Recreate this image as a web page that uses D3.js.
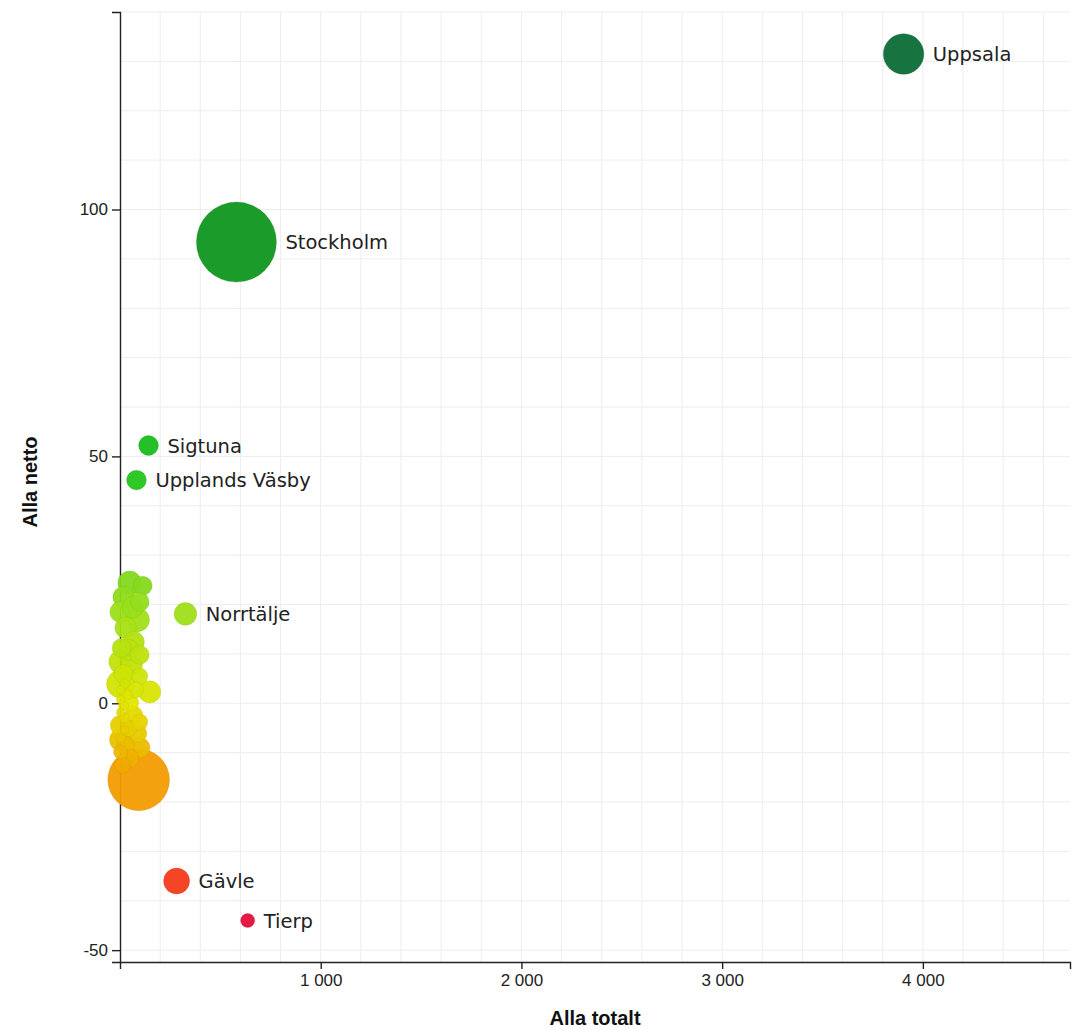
<!DOCTYPE html>
<html>
<head>
<meta charset="utf-8">
<script src="https://cdn.jsdelivr.net/npm/d3@7"></script>
<style>
  html, body { margin: 0; padding: 0; background: #fff; }
  svg { display: block; }
</style>
</head>
<body>
<div id="chart"></div>
<script>
// ---- Data ----
const names = [
  "Uppsala", "Stockholm", "Sigtuna", "Upplands Väsby", "Norrtälje", "Gävle", "Tierp",
  "Göteborg",
  "Vallentuna", "Österåker", "Täby", "Vaxholm", "Sollentuna", "Järfälla", "Danderyd",
  "Solna", "Sundbyberg", "Upplands-Bro", "Håbo", "Lidingö", "Enköping", "Ekerö",
  "Västerås", "Heby", "Knivsta", "Östhammar", "Älvkarleby", "Salem", "Tyresö",
  "Nykvarn", "Södertälje", "Botkyrka", "Huddinge", "Haninge", "Värmdö", "Nynäshamn",
  "Sandviken", "Falun", "Borlänge", "Örebro", "Eskilstuna", "Linköping", "Norrköping",
  "Malmö", "Lund", "Umeå", "Gotland", "Karlstad"
];
const totalt = [
  3904, 580, 142, 82, 326, 282, 636,
  93,
  48, 113, 18, 98, 3, 88, 28,
  68, 8, 98, 3, 58, 18, 3,
  98, 148, 23, 3, 38, 3, 18,
  53, 3, 23, 68, 3, 43, 88,
  3, 28, 98, 3, 48, 13, 78,
  98, 23, 63, 43, 3, 73
];
const netto = [
  131.5, 93.4, 52.2, 45.2, 18.1, -36.0, -44.0,
  -15.5,
  24.4, 23.8, 21.5, 20.5, 18.5, 16.9, 15.3,
  12.4, 11.2, 9.8, 8.4, 7.8, 5.9, 3.9,
  5.5, 2.3, 3.9, 2.7, 1.7, 0.7, -0.5,
  0.1, -1.8, -3.0, -2.4, -4.5, -5.1, -6.1,
  -7.0, -8.5, -9.0, -9.9, -11.1, -12.5, 2.7,
  -3.8, -5.4, 19.4, 10.8, -7.4, -11.5
];
const befolkning = [
  250000, 975000, 60000, 60000, 78000, 103000, 30000,
  580000,
  85000, 55000, 70000, 55000, 70000, 85000, 70000,
  70000, 55000, 55000, 85000, 70000, 55000, 120000,
  40000, 75000, 15000, 10000, 15000, 10000, 15000,
  40000, 10000, 15000, 50000, 65000, 40000, 50000,
  15000, 50000, 65000, 30000, 50000, 40000, 40000,
  40000, 10000, 70000, 70000, 75000, 55000
];
const xTicks = [1000, 2000, 3000, 4000];
const yTicks = [-50, 0, 50, 100];
const xTitle = "Alla totalt";
const yTitle = "Alla netto";

const colorStops = [-44, -36, -15, 0, 20, 48, 93, 131];
const colorRange = ["#e40c3c", "#f43b1b", "#f29e00", "#e2e600", "#96de1c", "#18c11c", "#0f961e", "#0b6b35"];

// ---- Layout ----
const W = 1073, H = 1030;
const mLeft = 120, mRight = 1070, mTop = 12, mBottom = 962;

const svg = d3.select("#chart").append("svg")
  .attr("width", W).attr("height", H)
  .style("background", "#fff");

const x = d3.scaleLinear().domain([0, 4733]).range([mLeft, mRight]);
const y = d3.scaleLinear().domain([-52.4, 140]).range([mBottom, mTop]);
const r = d3.scaleSqrt().domain([0, 975000]).range([0, 40]);
const color = d3.scaleLinear().domain(colorStops).range(colorRange).clamp(true);

const locale = d3.formatLocale({ decimal: ",", thousands: "\u00a0", grouping: [3], currency: ["", " kr"], minus: "-" });
const fmt = locale.format(",d");

// Grid
const grid = svg.append("g").attr("class", "grid");
grid.selectAll("line.v").data(d3.range(200, 4733, 200)).join("line")
  .attr("x1", d => x(d)).attr("x2", d => x(d))
  .attr("y1", mTop).attr("y2", mBottom)
  .attr("stroke", "#ededed").attr("stroke-width", 1);
grid.selectAll("line.h").data(d3.range(-50, 141, 10)).join("line")
  .attr("x1", mLeft).attr("x2", mRight)
  .attr("y1", d => y(d)).attr("y2", d => y(d))
  .attr("stroke", "#ededed").attr("stroke-width", 1);

// Axes
const xAxis = svg.append("g")
  .attr("transform", `translate(0,${mBottom})`)
  .call(d3.axisBottom(x).tickValues(xTicks).tickFormat(fmt).tickSize(7).tickPadding(5));
const yAxis = svg.append("g")
  .attr("transform", `translate(${mLeft},0)`)
  .call(d3.axisLeft(y).tickValues(yTicks).tickFormat(fmt).tickSize(8).tickPadding(4));

[xAxis, yAxis].forEach(a => {
  a.selectAll("path, line").attr("stroke", "#222").attr("stroke-width", 1.4);
  a.selectAll("text")
    .attr("fill", "#222")
    .style("font-family", "'Liberation Sans', Arial, sans-serif")
    .style("font-size", "17px");
});

// Titles
svg.append("text")
  .attr("x", (mLeft + mRight) / 2).attr("y", 1025)
  .attr("text-anchor", "middle")
  .style("font-family", "'Liberation Sans', Arial, sans-serif")
  .style("font-weight", "bold").style("font-size", "20px")
  .attr("fill", "#111")
  .text(xTitle);
svg.append("text")
  .attr("transform", `translate(37,${(mTop + mBottom) / 2 - 5}) rotate(-90)`)
  .attr("text-anchor", "middle")
  .style("font-family", "'Liberation Sans', Arial, sans-serif")
  .style("font-weight", "bold").style("font-size", "20px")
  .attr("fill", "#111")
  .text(yTitle);

// Points
const data = names.map((n, i) => ({ name: n, tot: totalt[i], net: netto[i], pop: befolkning[i] }));
const sorted = data.slice().sort((a, b) => b.pop - a.pop);

svg.append("g").selectAll("circle").data(sorted).join("circle")
  .attr("cx", d => x(d.tot))
  .attr("cy", d => y(d.net))
  .attr("r", d => r(d.pop))
  .attr("fill", d => color(d.net))
  .attr("fill-opacity", 0.95)
  .attr("stroke", d => d3.color(color(d.net)).darker(0.5))
  .attr("stroke-opacity", 0.35)
  .attr("stroke-width", 0.8);

// Labels
const labeled = data.filter(d => d.tot > 250 || Math.abs(d.net) > 30);
svg.append("g").selectAll("text").data(labeled).join("text")
  .attr("x", d => x(d.tot) + r(d.pop) + 9)
  .attr("y", d => y(d.net))
  .attr("dy", "0.36em")
  .style("font-family", "'DejaVu Sans', Verdana, sans-serif")
  .style("font-size", "19.5px")
  .attr("fill", "#222")
  .text(d => d.name);
</script>
</body>
</html>
